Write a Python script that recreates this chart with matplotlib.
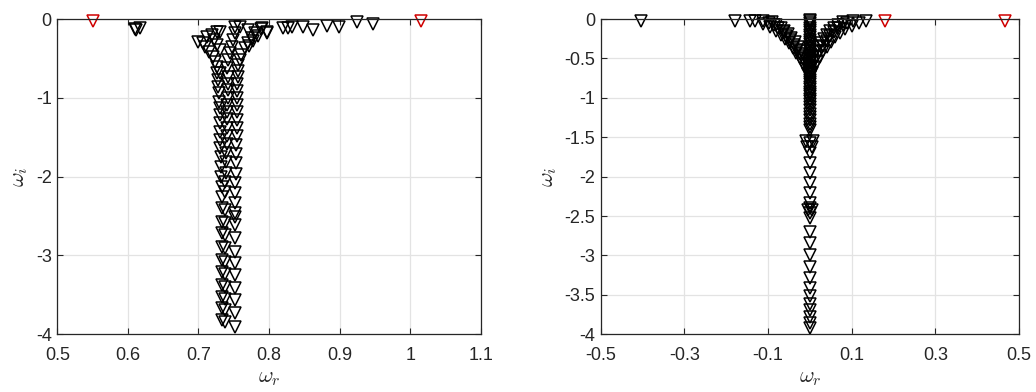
import matplotlib
matplotlib.use("Agg")
import matplotlib.pyplot as plt

plt.rcParams['font.family'] = ['Liberation Sans', 'DejaVu Sans']
plt.rcParams['mathtext.fontset'] = 'cm'
plt.rcParams['axes.unicode_minus'] = False

# ---- left panel data (omega_r, omega_i) ----
left_red_x = [0.550, 1.015]
left_red_y = [-0.03, -0.02]

# top branch (small black pair + right branch)
left_top_x = [0.610, 0.617, 0.612, 0.788, 0.797, 0.820, 0.827, 0.832, 0.848, 0.862, 0.882, 0.899, 0.924, 0.947]
left_top_y = [-0.13, -0.12, -0.14, -0.13, -0.18, -0.11, -0.12, -0.10, -0.10, -0.14, -0.09, -0.10, -0.04, -0.06]

# V shaped arms feeding the column
left_arm_x = [0.699, 0.706, 0.710, 0.715, 0.720, 0.724, 0.727, 0.731,
              0.712, 0.719, 0.726, 0.730, 0.722, 0.726, 0.730,
              0.752, 0.759, 0.770, 0.780, 0.790, 0.797,
              0.776, 0.770, 0.766, 0.761, 0.759,
              0.752, 0.749, 0.748, 0.745, 0.742,
              0.785, 0.778, 0.772]
left_arm_y = [-0.29, -0.31, -0.36, -0.42, -0.48, -0.55, -0.61, -0.68,
              -0.23, -0.20, -0.17, -0.16, -0.27, -0.33, -0.39,
              -0.10, -0.10, -0.14, -0.18, -0.11, -0.16,
              -0.24, -0.31, -0.37, -0.46, -0.52,
              -0.18, -0.27, -0.36, -0.43, -0.52,
              -0.21, -0.28, -0.34]

# three columns of modes
left_c1_x = [0.727, 0.728, 0.728, 0.729, 0.729, 0.730, 0.730, 0.730, 0.731, 0.731, 0.731, 0.732, 0.732, 0.732,
             0.733, 0.733, 0.733, 0.733, 0.733, 0.733, 0.733, 0.733, 0.733, 0.733, 0.733, 0.733]
left_c1_y = [-0.69, -0.77, -0.86, -0.94, -1.05, -1.13, -1.22, -1.32, -1.43, -1.54, -1.64, -1.75, -1.88, -2.01,
             -2.13, -2.26, -2.40, -2.57, -2.72, -2.89, -3.06, -3.21, -3.38, -3.53, -3.67, -3.82]
left_c2_x = [0.741, 0.742, 0.742, 0.742, 0.742, 0.741, 0.741, 0.741, 0.740, 0.740, 0.740, 0.739, 0.739, 0.739,
             0.738, 0.738, 0.738, 0.738, 0.738, 0.738, 0.738, 0.738, 0.738, 0.738, 0.738, 0.738]
left_c2_y = [-0.62, -0.73, -0.82, -0.90, -1.00, -1.09, -1.18, -1.27, -1.38, -1.49, -1.59, -1.70, -1.82, -1.95,
             -2.07, -2.20, -2.42, -2.59, -2.74, -2.91, -3.08, -3.23, -3.40, -3.55, -3.69, -3.84]
left_c3_x = [0.756, 0.756, 0.756, 0.755, 0.755, 0.755, 0.755, 0.754, 0.754, 0.754, 0.754, 0.753, 0.753, 0.753,
             0.753, 0.752, 0.752, 0.752, 0.752, 0.752, 0.752, 0.752, 0.752, 0.752, 0.752, 0.752]
left_c3_y = [-0.58, -0.66, -0.74, -0.82, -0.91, -1.00, -1.09, -1.18, -1.28, -1.38, -1.49, -1.60, -1.71, -1.83,
             -1.96, -2.08, -2.21, -2.33, -2.46, -2.61, -2.78, -2.96, -3.10, -3.25, -3.41, -3.57]
left_c4_x = [0.752, 0.752, 0.752]
left_c4_y = [-3.73, -3.91, -2.51]

# ---- right panel data ----
right_red_x = [0.179, 0.467]
right_red_y = [-0.03, -0.03]

right_top_x = [-0.404, -0.179, -0.144]
right_top_y = [-0.03, -0.03, -0.02]

right_arm_x = [-0.131, -0.112, -0.095, -0.082, -0.070, -0.060, -0.050, -0.041, -0.032, -0.024, -0.017, -0.010, -0.005,
               -0.112, -0.098, -0.085, -0.075, -0.065, -0.056, -0.047, -0.039, -0.031, -0.023, -0.016, -0.009,
               -0.091, -0.080, -0.070, -0.061, -0.052, -0.044, -0.036, -0.028, -0.020, -0.013, -0.007,
               0.134, 0.118, 0.100, 0.085, 0.072, 0.061, 0.051, 0.041, 0.032, 0.024, 0.016, 0.009, 0.004,
               0.103, 0.090, 0.079, 0.068, 0.058, 0.049, 0.040, 0.032, 0.024, 0.017, 0.010,
               0.079, 0.068, 0.058, 0.049, 0.041, 0.034, 0.027, 0.020, 0.013, 0.007]
right_arm_y = [-0.03, -0.06, -0.10, -0.15, -0.20, -0.25, -0.31, -0.37, -0.43, -0.50, -0.57, -0.64, -0.70,
               -0.03, -0.05, -0.08, -0.12, -0.17, -0.22, -0.27, -0.33, -0.39, -0.45, -0.51, -0.58,
               -0.04, -0.07, -0.11, -0.15, -0.19, -0.24, -0.29, -0.35, -0.41, -0.47, -0.53,
               -0.03, -0.05, -0.09, -0.13, -0.18, -0.23, -0.29, -0.35, -0.41, -0.48, -0.55, -0.62, -0.69,
               -0.03, -0.05, -0.08, -0.12, -0.17, -0.22, -0.28, -0.34, -0.40, -0.47, -0.54,
               -0.04, -0.07, -0.11, -0.15, -0.20, -0.25, -0.30, -0.36, -0.42, -0.48]

right_col_y = [-0.01, -0.03, -0.05, -0.08, -0.11, -0.14, -0.17, -0.20, -0.23, -0.26, -0.29, -0.32, -0.35,
               -0.38, -0.41, -0.44, -0.47, -0.50, -0.53, -0.56, -0.59, -0.62, -0.65, -0.68, -0.71, -0.74,
               -0.77, -0.80, -0.83, -0.86, -0.89, -0.92, -0.95, -0.98, -1.01, -1.04, -1.08, -1.12, -1.16,
               -1.20, -1.24, -1.28, -1.33, -1.37, -1.41, -1.57, -1.70, -1.83, -1.95, -2.08, -2.21, -2.34,
               -2.40, -2.46, -2.52, -2.70, -2.84, -3.00, -3.15, -3.29, -3.41, -3.52, -3.61, -3.69, -3.78,
               -3.86, -3.92]
right_col_x = [0.0] * len(right_col_y)
right_wide_x = [-0.008, 0.008, -0.006, 0.006, -0.004, 0.004]
right_wide_y = [-1.55, -1.55, -1.62, -1.62, -2.42, -2.42]

mk = dict(marker='v', linestyle='none', markersize=8, markerfacecolor='none',
          markeredgewidth=1.1, clip_on=False)

fig = plt.figure(figsize=(10.36, 3.92), dpi=100)
ax1 = fig.add_axes([0.0553, 0.1472, 0.4087, 0.8043])
ax2 = fig.add_axes([0.5798, 0.1472, 0.4038, 0.8043])

ax1.plot(left_top_x, left_top_y, color='k', **mk)
ax1.plot(left_arm_x, left_arm_y, color='k', **mk)
ax1.plot(left_c1_x, left_c1_y, color='k', **mk)
ax1.plot(left_c2_x, left_c2_y, color='k', **mk)
ax1.plot(left_c3_x, left_c3_y, color='k', **mk)
ax1.plot(left_c4_x, left_c4_y, color='k', **mk)
ax1.plot(left_red_x, left_red_y, color='#d00000', **mk)
ax1.set_xlim(0.5, 1.1)
ax1.set_ylim(-4, 0)
ax1.set_xticks([0.5, 0.6, 0.7, 0.8, 0.9, 1.0, 1.1])
ax1.set_xticklabels(['0.5', '0.6', '0.7', '0.8', '0.9', '1', '1.1'])
ax1.set_yticks([0, -1, -2, -3, -4])
ax1.set_yticklabels(['0', '-1', '-2', '-3', '-4'])

ax2.plot(right_top_x, right_top_y, color='k', **mk)
ax2.plot(right_arm_x, right_arm_y, color='k', **mk)
ax2.plot(right_col_x, right_col_y, color='k', **mk)
ax2.plot(right_wide_x, right_wide_y, color='k', **mk)
ax2.plot(right_red_x, right_red_y, color='#d00000', **mk)
ax2.set_xlim(-0.5, 0.5)
ax2.set_ylim(-4, 0)
ax2.set_xticks([-0.5, -0.3, -0.1, 0.1, 0.3, 0.5])
ax2.set_xticklabels(['-0.5', '-0.3', '-0.1', '0.1', '0.3', '0.5'])
ax2.set_yticks([0, -0.5, -1, -1.5, -2, -2.5, -3, -3.5, -4])
ax2.set_yticklabels(['0', '-0.5', '-1', '-1.5', '-2', '-2.5', '-3', '-3.5', '-4'])

for ax in (ax1, ax2):
    ax.grid(True, color='#e3e3e3', linewidth=0.9)
    ax.set_axisbelow(True)
    for s in ax.spines.values():
        s.set_color('#262626')
        s.set_linewidth(0.9)
    ax.tick_params(direction='in', top=True, right=True, length=4, width=0.8,
                   labelsize=13, colors='#262626')
    ax.tick_params(axis='x', pad=9)
    ax.tick_params(axis='y', pad=4)
    ax.set_xlabel(r'$\omega_r$', fontsize=16, color='#262626', labelpad=2)
    ax.set_ylabel(r'$\omega_i$', fontsize=16, color='#262626', labelpad=4)

fig.savefig('out.png', dpi=100)
